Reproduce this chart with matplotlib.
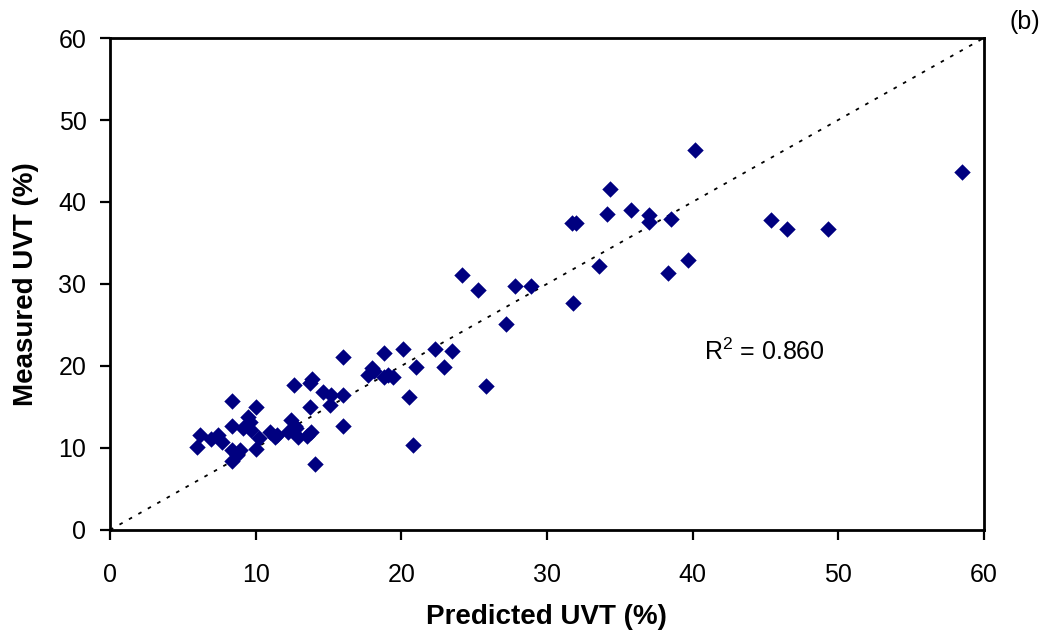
import matplotlib
matplotlib.use("Agg")
import matplotlib.pyplot as plt
import numpy as np

plt.rcParams['font.family'] = ['Liberation Sans', 'DejaVu Sans']
plt.rcParams['mathtext.fontset'] = 'custom'
plt.rcParams['mathtext.rm'] = 'Liberation Sans'

# predicted vs measured UVT (%)
predicted = [6.0, 6.2, 6.9, 7.4, 7.7, 8.4, 8.4, 8.4, 8.4, 8.7, 8.9, 9.1, 9.5, 9.6,
             9.7, 10.0, 10.0, 10.2, 11.0, 11.3, 11.5, 12.2, 12.4, 12.6, 12.7, 12.8,
             12.9, 13.7, 13.9, 13.7, 13.5, 13.8, 14.1, 14.6, 15.1, 15.2, 16.0, 16.0,
             16.0, 17.7, 18.0, 18.1, 18.8, 19.1, 19.4, 18.8, 20.1, 20.5, 20.8, 21.0,
             22.3, 22.9, 23.5, 24.2, 25.3, 25.8, 27.2, 27.8, 28.9, 31.7, 31.8, 32.0,
             33.6, 34.1, 34.3, 35.8, 37.0, 37.0, 38.5, 38.3, 39.7, 40.2, 45.4, 46.5,
             49.3, 58.5]
measured = [10.1, 11.6, 11.1, 11.6, 10.7, 12.7, 15.7, 9.8, 8.4, 9.1, 9.8, 12.4, 13.8,
            13.2, 12.2, 15.0, 9.9, 11.2, 12.0, 11.3, 11.6, 12.0, 13.4, 17.7, 12.7, 12.4,
            11.3, 17.9, 18.4, 15.0, 11.4, 11.9, 8.0, 16.8, 15.2, 16.5, 21.1, 16.5,
            12.7, 18.9, 19.8, 19.4, 18.6, 18.9, 18.7, 21.6, 22.1, 16.2, 10.4, 19.9,
            22.1, 19.9, 21.8, 31.1, 29.3, 17.6, 25.1, 29.8, 29.8, 37.4, 27.7, 37.4,
            32.2, 38.5, 41.6, 39.0, 38.4, 37.6, 37.9, 31.3, 32.9, 46.4, 37.8, 36.7,
            36.7, 43.7]
r2_text = "R$^{2}$ = 0.860"

fig = plt.figure(figsize=(10.42, 6.4), dpi=100)
ax = fig.add_axes([0.1056, 0.172, 0.8385, 0.7686])

# 1:1 line
ax.plot([0, 60], [0, 60], color='black', linestyle=(0, (2, 4)), linewidth=1.3, zorder=1)
ax.scatter(predicted, measured, marker='D', s=70, color='#000080', zorder=2, linewidths=0)

ax.set_xlim(0, 60)
ax.set_ylim(0, 60)
ax.set_xticks(np.arange(0, 61, 10))
ax.set_yticks(np.arange(0, 61, 10))
ax.tick_params(direction='out', length=7, width=1.6, labelsize=18)
ax.tick_params(axis='x', pad=17)
ax.tick_params(axis='y', pad=10)
for s in ax.spines.values():
    s.set_linewidth(2)

ax.set_xlabel("Predicted UVT (%)", fontsize=20, fontweight='bold', labelpad=12)
ax.set_ylabel("Measured UVT (%)", fontsize=20, fontweight='bold', labelpad=14)

ax.text(40.8, 20.7, r2_text, fontsize=18, ha='left', va='baseline')
fig.text(0.998, 0.965, "(b)", fontsize=18, ha='right', va='center')

fig.savefig("out.png", dpi=100)
